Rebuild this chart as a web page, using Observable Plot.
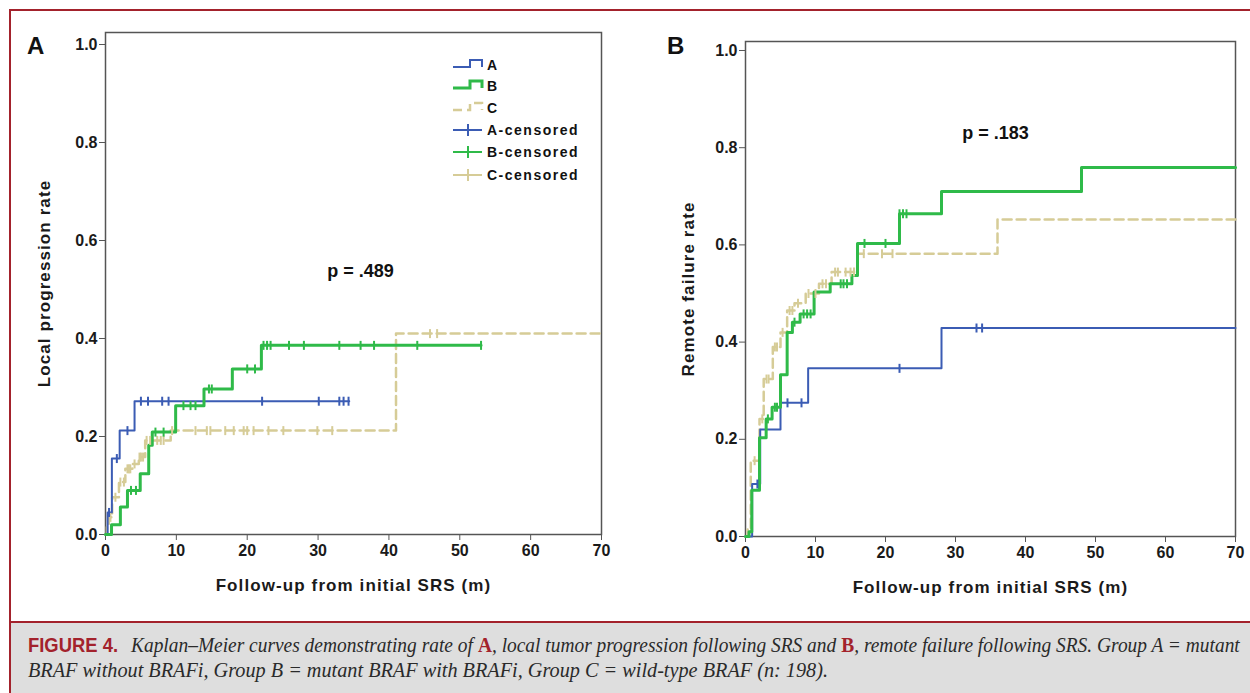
<!DOCTYPE html>
<html><head><meta charset="utf-8">
<script src="https://cdn.jsdelivr.net/npm/d3@7"></script>
<script src="https://cdn.jsdelivr.net/npm/@observablehq/plot@0.6"></script>
<style>
body{margin:0;background:#fff;}
#fig{position:relative;width:1250px;height:693px;overflow:hidden;background:#fff;}
.abs{position:absolute;}
.panel [aria-label="x-axis label"] text,.panel [aria-label="y-axis label"] text{font-size:17px;letter-spacing:1.1px;}
</style></head>
<body><div id="fig"></div>
<script>
// ---------- Data ----------
const xTicks = [0,10,20,30,40,50,60,70];
const yTicks = [0,0.2,0.4,0.6,0.8,1.0];
const groups = ["A","B","C"];
const groupColors = ["#3b5cb4","#2fba49","#d6cc97"];

// Panel A: local progression
const aTimesA = [0,0.3,0.9,2.0,4.1];
const aRatesA = [0,0.045,0.155,0.212,0.272];
const aEndA = 34.4;
const aCensA = [0.5,1.6,3.1,5.0,6.0,8.0,8.9,22.1,30.1,33.0,33.6,34.3];

const aTimesB = [0,0.85,2.1,3.1,4.9,6.1,6.6,9.9,13.9,17.9,22.0];
const aRatesB = [0,0.02,0.056,0.09,0.124,0.182,0.209,0.263,0.297,0.338,0.386];
const aEndB = 53.0;
const aCensB = [3.6,4.3,7.05,8.2,11.0,12.0,12.7,14.6,15.0,20.0,21.1,22.3,22.8,23.3,25.9,28.0,33.0,36.0,37.9,44.0,53.0];

const aTimesC = [0,0.2,0.47,0.94,1.9,2.8,3.8,4.7,5.6,9.2,41.0];
const aRatesC = [0,0.018,0.035,0.076,0.107,0.134,0.144,0.158,0.192,0.212,0.41];
const aEndC = 70;
const aCensC = [0.7,1.4,2.1,2.6,3.1,3.3,3.5,4.1,4.8,5.0,5.3,5.8,6.3,7.3,7.8,8.2,9.4,12.7,14.3,14.8,16.9,18.1,19.5,20.0,20.9,23.0,25.1,29.9,32.0,45.8,46.8];

// Panel B: remote failure
const bTimesA = [0,0.95,2.1,5.0,8.95,28.0];
const bRatesA = [0,0.108,0.22,0.275,0.346,0.429];
const bEndA = 70;
const bCensA = [1.7,6.0,8.0,22.0,33.0,33.8];

const bTimesB = [0,0.5,0.9,2.0,2.95,3.8,5.0,5.95,6.7,7.8,9.8,12.1,15.2,16.0,22.0,28.0,48.0];
const bRatesB = [0,0.01,0.095,0.203,0.242,0.266,0.333,0.42,0.441,0.458,0.503,0.52,0.537,0.603,0.664,0.71,0.759];
const bEndB = 70;
const bCensB = [3.2,4.2,4.5,7.0,8.3,8.8,9.3,13.6,14.0,14.5,17.0,20.0,22.0,22.5,23.0];

const bTimesC = [0,0.3,0.75,2.0,2.6,3.9,5.0,5.95,7.0,8.6,10.5,12.3,16.0,36.0];
const bRatesC = [0,0.015,0.156,0.242,0.324,0.39,0.42,0.465,0.48,0.50,0.52,0.544,0.582,0.652];
const bEndC = 70;
const bCensC = [1.3,2.4,3.0,3.3,4.2,4.5,5.3,6.3,6.7,7.5,9.0,10.0,11.0,11.5,12.8,13.2,14.3,15.0,15.5,16.9,19.5,21.0];

const pTexts = ["p = .489","p = .183"];
const pX = [36.0,35.7];
const pY = [0.537,0.829];
const yLabels = ["Local progression rate","Remote failure rate"];
const xLabel = "Follow-up from initial SRS (m)";
const legendLabels = ["A","B","C","A-censored","B-censored","C-censored"];
const captionHead = "FIGURE 4.";
const captionLine1 = [["Kaplan–Meier curves demonstrating rate of ",0],["A",1],[", local tumor progression following SRS and ",0],["B",1],[", remote failure following SRS. Group A = mutant",0]];
const captionLine2 = "BRAF without BRAFi, Group B = mutant BRAF with BRAFi, Group C = wild-type BRAF (n: 198).";

// ---------- helpers ----------
function stepPoints(times, rates, end){
  const pts = times.map((t,i)=>({x:t,y:rates[i]}));
  pts.push({x:end,y:rates[rates.length-1]});
  return pts;
}
function censorPoints(times, rates, cens){
  return cens.map(c=>{
    let v = rates[0];
    for(let i=0;i<times.length;i++){ if(times[i]<=c) v = rates[i]; }
    return {x:c,y:v};
  });
}
const vbar = {draw(ctx,size){const r=Math.sqrt(size/Math.PI);ctx.moveTo(0,-r);ctx.lineTo(0,r);}};
const widths = [2,3,2.5];
const dashes = [null,null,"9,5"];

function panel(series, cfg){
  const marks = [
    Plot.frame({stroke:"#555",strokeWidth:1.5}),
    Plot.axisX({ticks:xTicks,tickSize:6,tickPadding:4,stroke:"#555",label:xLabel,labelAnchor:"center",labelOffset:cfg.xLabelOffset,labelArrow:"none"}),
    Plot.axisY({ticks:yTicks,tickFormat:d3.format(".1f"),tickSize:6,tickPadding:2,stroke:"#555",label:cfg.yLabel,labelAnchor:"center",labelOffset:cfg.yLabelOffset,labelArrow:"none"})
  ];
  [2,0,1].forEach(k=>{
    const s = series[k];
    marks.push(Plot.line(stepPoints(s[0],s[1],s[2]),{x:"x",y:"y",curve:"step-after",stroke:groupColors[k],strokeWidth:widths[k],strokeDasharray:dashes[k]}));
  });
  [2,0,1].forEach(k=>{
    const s = series[k];
    marks.push(Plot.dot(censorPoints(s[0],s[1],s[3]),{x:"x",y:"y",symbol:vbar,r:4.5,stroke:groupColors[k],strokeWidth:2,fill:"none"}));
  });
  marks.push(Plot.text([{x:cfg.px,y:cfg.py,t:cfg.pt}],{x:"x",y:"y",text:"t",fontSize:18,fontWeight:"bold",fill:"#111",style:"letter-spacing:1.8px"}));
  return Plot.plot({
    width:cfg.width,height:cfg.height,
    marginLeft:cfg.ml,marginRight:cfg.mr,marginTop:cfg.mt,marginBottom:cfg.mb,
    x:{domain:[0,70]},y:{domain:[0,cfg.ymax]},
    style:{fontFamily:"'Liberation Sans', Arial, sans-serif",fontSize:"16px",fontWeight:"bold",color:"#1a1a1a",background:"transparent",overflow:"visible"},
    marks
  });
}

const fig = document.getElementById("fig");

const border = document.createElement("div");
border.className="abs";
Object.assign(border.style,{left:"9px",top:"9px",width:"1260px",height:"700px",borderLeft:"2px solid #a3222c",borderTop:"2px solid #a3222c"});
fig.appendChild(border);
const capbg = document.createElement("div");
capbg.className="abs";
Object.assign(capbg.style,{left:"11px",top:"621px",width:"1260px",height:"80px",background:"#dedede",borderTop:"2px solid #a3222c"});
fig.appendChild(capbg);

const pA = panel([[aTimesA,aRatesA,aEndA,aCensA],[aTimesB,aRatesB,aEndB,aCensB],[aTimesC,aRatesC,aEndC,aCensC]],
  {width:620,height:610,ml:105,mr:19,mt:32,mb:76,ymax:1.0245,xLabelOffset:56,yLabelOffset:68,yLabel:yLabels[0],px:pX[0],py:pY[0],pt:pTexts[0]});
const wA = document.createElement("div"); wA.className="abs panel"; wA.style.left="0px"; wA.style.top="0px"; wA.appendChild(pA); fig.appendChild(wA);

const pB = panel([[bTimesA,bRatesA,bEndA,bCensA],[bTimesB,bRatesB,bEndB,bCensB],[bTimesC,bRatesC,bEndC,bCensC]],
  {width:610,height:610,ml:105,mr:15,mt:41,mb:74,ymax:1.0185,xLabelOffset:56,yLabelOffset:64,yLabel:yLabels[1],px:pX[1],py:pY[1],pt:pTexts[1]});
const wB = document.createElement("div"); wB.className="abs panel"; wB.style.left="640px"; wB.style.top="0px"; wB.appendChild(pB); fig.appendChild(wB);

// overlay: panel letters, legend, caption
const NS="http://www.w3.org/2000/svg";
const ov = document.createElementNS(NS,"svg");
ov.setAttribute("width",1250); ov.setAttribute("height",693);
ov.setAttribute("class","abs"); ov.style.left="0px"; ov.style.top="0px";
fig.appendChild(ov);
function el(tag,attrs,text,parent){const e=document.createElementNS(NS,tag);for(const k in attrs)e.setAttribute(k,attrs[k]);if(text!=null)e.textContent=text;(parent||ov).appendChild(e);return e;}
el("text",{x:27,y:54,"font-family":"Liberation Sans, Arial","font-weight":"bold","font-size":24,fill:"#111"},"A");
el("text",{x:667,y:54,"font-family":"Liberation Sans, Arial","font-weight":"bold","font-size":24,fill:"#111"},"B");

const rowY=[65,86,108,130,152,175];
for(let k=0;k<3;k++){
  const y=rowY[k];
  el("path",{d:`M453,${y+2}H470V${y-5}H482V${y+2}`,fill:"none",stroke:groupColors[k],"stroke-width":widths[k],"stroke-dasharray":dashes[k]||"none"});
  const y2=rowY[k+3];
  el("path",{d:`M453,${y2}H482M468,${y2-6}V${y2+6}`,fill:"none",stroke:groupColors[k],"stroke-width":2});
}
legendLabels.forEach((t,i)=>{
  el("text",{x:487,y:rowY[i]+5,"font-family":"Liberation Sans, Arial","font-weight":"bold","font-size":14,"letter-spacing":"1.5px",fill:"#111"},t);
});

// caption
el("text",{x:28,y:652,"font-family":"'Liberation Sans Narrow','Liberation Sans',Arial","font-weight":"bold","font-size":20,fill:"#a3222c",textLength:90,lengthAdjust:"spacingAndGlyphs"},captionHead);
const g1 = el("g",{});
let cx = 0;
captionLine1.forEach(([t,red])=>{
  const attrs = {x:cx,y:0,"font-family":"'Liberation Serif','Times New Roman',serif","font-size":20,fill:"#2a2a2a","xml:space":"preserve"};
  if(red){attrs.fill="#a3222c";attrs["font-weight"]="bold";} else {attrs["font-style"]="italic";}
  const e = el("text",attrs,t,g1);
  e.style.whiteSpace="pre";
  cx += e.getComputedTextLength();
});
g1.setAttribute("transform",`translate(131,652) scale(${1109/cx},1)`);
el("text",{x:28,y:677,"font-family":"'Liberation Serif','Times New Roman',serif","font-style":"italic","font-size":20,fill:"#2a2a2a",textLength:800,lengthAdjust:"spacingAndGlyphs"},captionLine2);
</script></body></html>
